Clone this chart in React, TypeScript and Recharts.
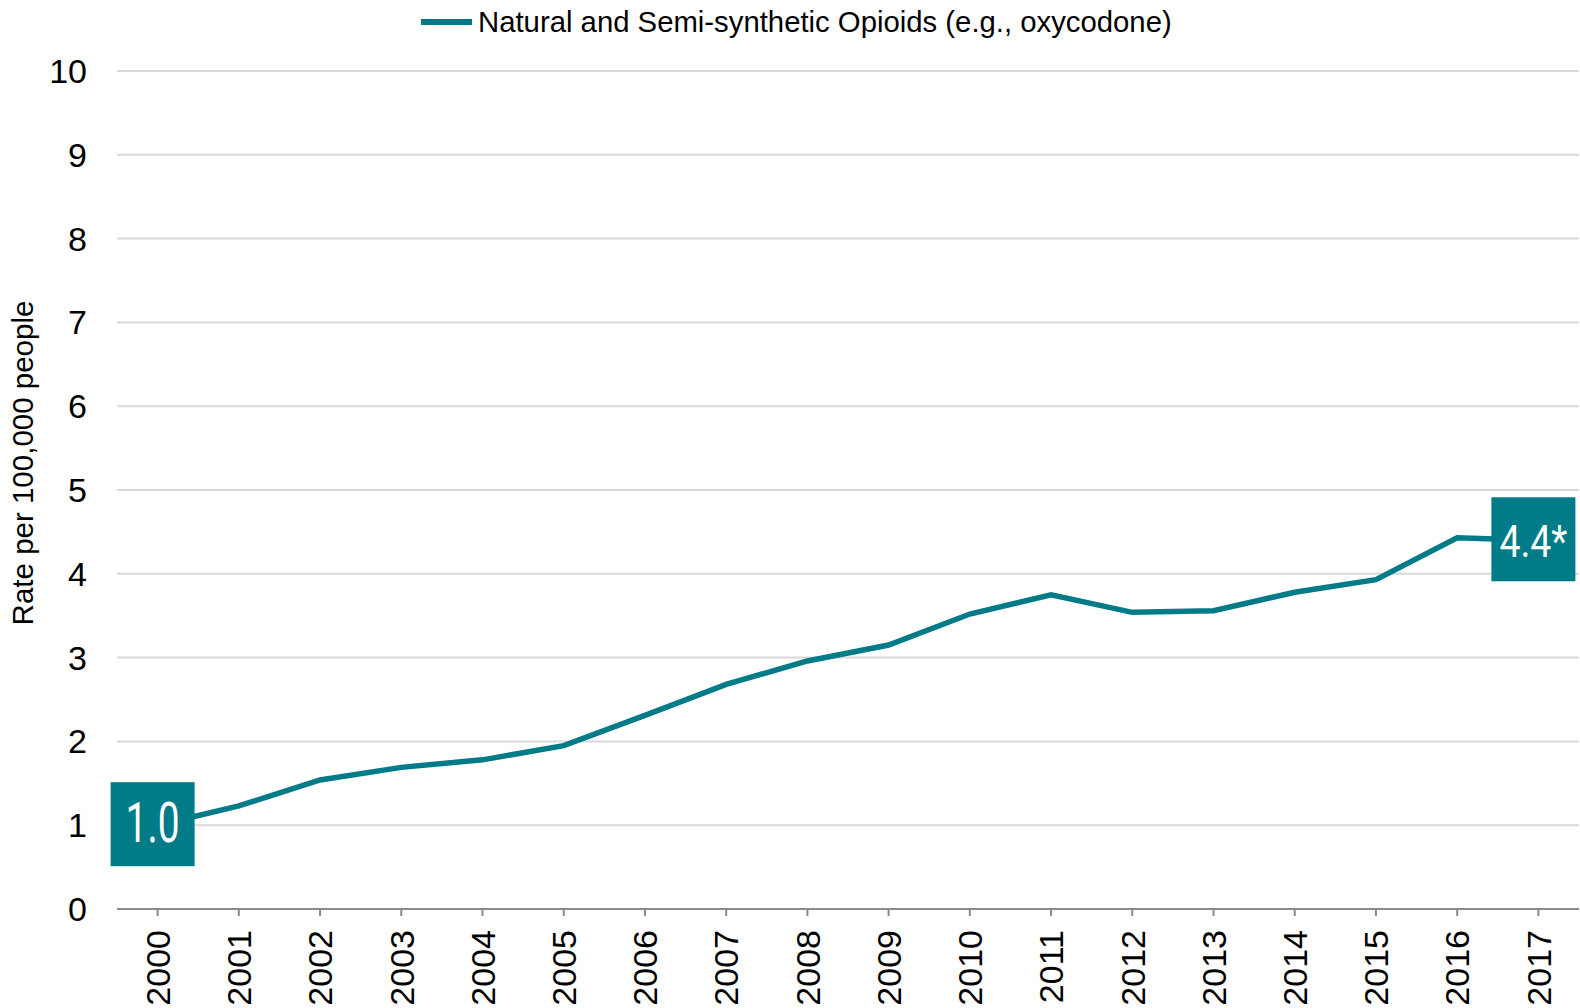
import { LineChart, Line, XAxis, YAxis, CartesianGrid, Legend, LabelList } from "recharts";

const years = [
  "2000", "2001", "2002", "2003", "2004", "2005", "2006", "2007", "2008",
  "2009", "2010", "2011", "2012", "2013", "2014", "2015", "2016", "2017",
];
const rates = [
  1.0, 1.23, 1.54, 1.69, 1.78, 1.95, 2.31, 2.68, 2.96,
  3.15, 3.52, 3.75, 3.54, 3.56, 3.78, 3.93, 4.43, 4.4,
];
const yTicks = [0, 1, 2, 3, 4, 5, 6, 7, 8, 9, 10];
const seriesName = "Natural and Semi-synthetic Opioids (e.g., oxycodone)";

const data = years.map((year, i) => ({ year, rate: rates[i] }));

const TEAL = "#007B87";
const AXIS_GRAY = "#8a8a8a";
const FONT = "'Liberation Sans', Arial, sans-serif";

function XTick({ x, y, payload }: any) {
  return (
    <text
      x={x}
      y={y}
      transform={`rotate(-90 ${x} ${y})`}
      textAnchor="end"
      dy="0.36em"
      fontSize={34}
      fontFamily={FONT}
      fill="#000"
    >
      {payload.value}
    </text>
  );
}

function YLabel({ viewBox }: any) {
  const x = 33;
  const y = viewBox.y + viewBox.height / 2 - 27;
  return (
    <text x={x} y={y} transform={`rotate(-90 ${x} ${y})`} textAnchor="middle" fontSize={29.5} fontFamily={FONT} fill="#000">
      Rate per 100,000 people
    </text>
  );
}

function ValueBox(props: any) {
  const { x, y, value, index } = props;
  const last = rates.length - 1;
  if (index !== 0 && index !== last) return null;
  const cx = x - 5;
  const cy = y - 1;
  const label = value.toFixed(1) + (index === last ? "*" : "");
  const isLast = index === last;
  return (
    <g>
      <rect x={cx - 42} y={cy - 42} width={84} height={84} fill={TEAL} />
      <text
        x={cx}
        y={cy + 18}
        textAnchor="middle"
        fill="#fff"
        fontFamily="Roboto, sans-serif"
        fontWeight={400}
        fontSize={isLast ? 45 : 55}
        textLength={isLast ? 68 : 54}
        lengthAdjust="spacingAndGlyphs"
      >
        {label}
      </text>
    </g>
  );
}

function LegendContent() {
  return (
    <div style={{ position: "relative", height: 71, width: 1580, fontFamily: FONT }}>
      <div style={{ position: "absolute", left: 421, top: 19, width: 51, height: 6, background: TEAL }} />
      <span style={{ position: "absolute", left: 478, top: 7, fontSize: 29.3, lineHeight: "29px", color: "#000", whiteSpace: "nowrap" }}>
        {seriesName}
      </span>
    </div>
  );
}

export default function App() {
  return (
    <div style={{ position: "absolute", left: 0, top: 0, background: "#fff" }}>
      <LineChart width={1580} height={1008} data={data} margin={{ top: 0, right: 1, bottom: 0, left: 0 }}>
        <Legend verticalAlign="top" content={<LegendContent />} wrapperStyle={{ top: 0, left: 0 }} />
        <CartesianGrid horizontal vertical={false} stroke="#D9D9D9" strokeWidth={2} />
        <XAxis
          dataKey="year"
          scale="band"
          height={99}
          interval={0}
          tick={<XTick />}
          tickSize={7}
          tickMargin={14}
          axisLine={{ stroke: AXIS_GRAY, strokeWidth: 2 }}
          tickLine={{ stroke: AXIS_GRAY, strokeWidth: 2 }}
        />
        <YAxis
          domain={[0, 10]}
          ticks={yTicks}
          width={117}
          interval={0}
          axisLine={false}
          tickLine={false}
          tickSize={0}
          tickMargin={30}
          tick={{ fontSize: 34, fontFamily: FONT, fill: "#000" }}
          label={<YLabel />}
        />
        <Line
          type="linear"
          dataKey="rate"
          name={seriesName}
          stroke={TEAL}
          strokeWidth={5.5}
          dot={false}
          activeDot={false}
          isAnimationActive={false}
        >
          <LabelList dataKey="rate" content={<ValueBox />} />
        </Line>
      </LineChart>
    </div>
  );
}
